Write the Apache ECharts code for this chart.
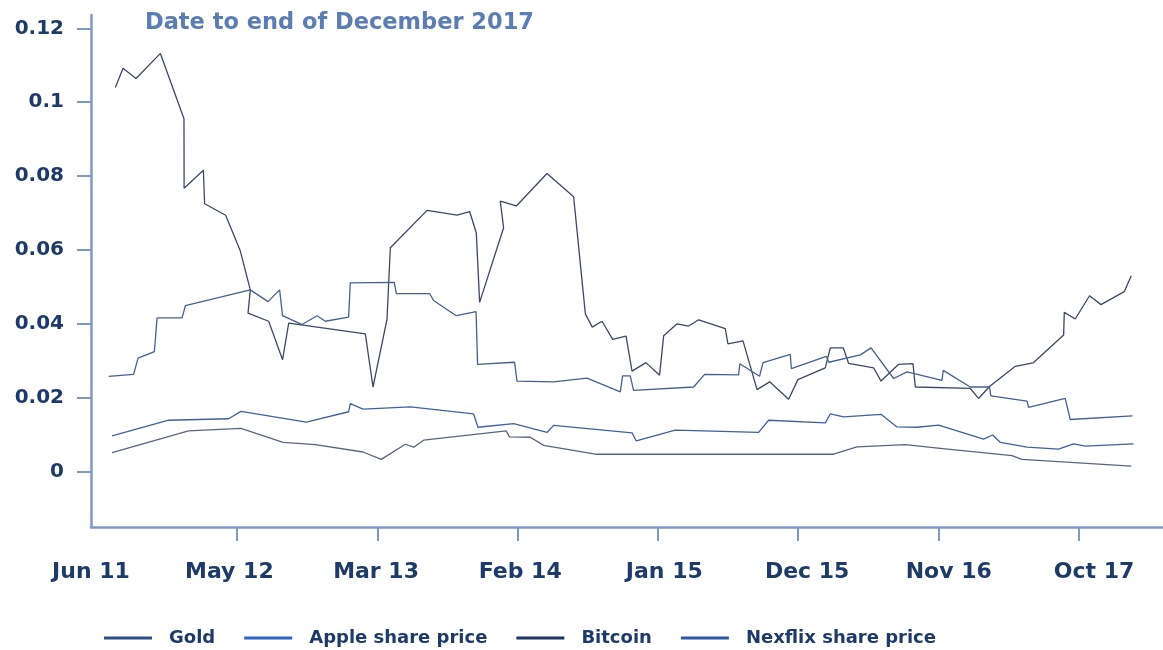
<!DOCTYPE html>
<html>
<head>
<meta charset="utf-8">
<title>Volatility chart</title>
<script src="https://cdn.jsdelivr.net/npm/echarts@6/dist/echarts.min.js"></script>
<style>
  html, body { margin: 0; padding: 0; background: #fff; }
  #chart { width: 1163px; height: 650px; }
</style>
</head>
<body>
<div id="chart"></div>
<script>
  // x values are months counted from Jun 2011
  const xTickMonths = [11, 22, 33, 44, 55, 66, 77];
  const xLabelMonths = [-0.45, 10.4, 21.9, 33.2, 44.5, 55.7, 66.8, 78.2];
  const xLabels = ['Jun 11', 'May 12', 'Mar 13', 'Feb 14', 'Jan 15', 'Dec 15', 'Nov 16', 'Oct 17'];
  const yTicks = [0, 0.02, 0.04, 0.06, 0.08, 0.1, 0.12];
  const yLabels = ['0', '0.02', '0.04', '0.06', '0.08', '0.1', '0.12'];

  const seriesNames = ['Gold', 'Apple share price', 'Bitcoin', 'Nexflix share price'];

  const goldMonths = [1.2, 7.2, 11.31, 14.61, 17.14, 20.88, 22.31, 24.19, 24.85, 25.63, 32.11, 32.35, 33.99, 35.04, 39.09, 57.77, 59.61, 63.4, 66.14, 71.76, 72.54, 81.11];
  const goldValues = [0.0051, 0.011, 0.0117, 0.0079, 0.0073, 0.0053, 0.0033, 0.0074, 0.0066, 0.0085, 0.011, 0.0094, 0.0093, 0.0071, 0.0047, 0.0047, 0.0067, 0.0073, 0.0063, 0.0043, 0.0033, 0.0015];

  const appleMonths = [1.2, 5.64, 10.34, 11.31, 16.43, 19.75, 19.88, 20.88, 24.59, 29.55, 29.89, 32.69, 35.3, 35.82, 41.97, 42.3, 45.36, 51.89, 52.68, 57.12, 57.51, 58.56, 61.49, 62.74, 64.31, 66.01, 69.53, 70.24, 70.85, 72.94, 75.41, 76.59, 77.51, 81.29];
  const appleValues = [0.0097, 0.0139, 0.0143, 0.0163, 0.0134, 0.0162, 0.0184, 0.0169, 0.0175, 0.0156, 0.012, 0.013, 0.0106, 0.0125, 0.0105, 0.0083, 0.0112, 0.0106, 0.0139, 0.0132, 0.0156, 0.0148, 0.0155, 0.0121, 0.012, 0.0126, 0.0088, 0.0099, 0.0079, 0.0066, 0.0061, 0.0075, 0.0069, 0.0075];

  const bitcoinMonths = [1.46, 2.06, 3.08, 4.99, 6.84, 6.85, 8.36, 8.46, 10.11, 11.26, 12.04, 11.86, 13.48, 14.57, 15.05, 21.06, 21.66, 22.76, 23.02, 25.9, 28.25, 29.24, 29.76, 30.02, 31.9, 31.64, 32.9, 35.3, 37.39, 38.31, 38.85, 39.62, 40.45, 41.5, 41.97, 43.06, 44.13, 44.45, 45.5, 46.41, 47.19, 49.28, 49.49, 50.67, 51.77, 52.76, 54.25, 54.97, 57.12, 57.51, 58.53, 58.95, 60.91, 61.49, 62.85, 64.0, 64.18, 68.49, 69.14, 70.02, 72.02, 73.41, 75.81, 75.86, 76.72, 77.84, 78.74, 80.56, 81.11];
  const bitcoinValues = [0.104, 0.1092, 0.1064, 0.1132, 0.0955, 0.0767, 0.0816, 0.0725, 0.0694, 0.0597, 0.0492, 0.0429, 0.0407, 0.0303, 0.0402, 0.0373, 0.0229, 0.0413, 0.0606, 0.0707, 0.0694, 0.0704, 0.0646, 0.0458, 0.066, 0.0732, 0.0719, 0.0807, 0.0744, 0.0427, 0.0391, 0.0407, 0.0358, 0.0367, 0.0272, 0.0295, 0.0261, 0.0368, 0.04, 0.0394, 0.0411, 0.0387, 0.0346, 0.0354, 0.0222, 0.0243, 0.0196, 0.0249, 0.0281, 0.0335, 0.0335, 0.0293, 0.0281, 0.0245, 0.029, 0.0292, 0.0229, 0.0225, 0.0198, 0.0231, 0.0285, 0.0294, 0.037, 0.0431, 0.0413, 0.0476, 0.0452, 0.0487, 0.053];

  const netflixMonths = [0.93, 2.89, 3.24, 4.52, 4.73, 6.69, 6.95, 12.04, 13.43, 14.34, 14.57, 16.1, 17.27, 17.92, 19.75, 19.88, 23.33, 23.49, 26.1, 26.41, 28.19, 29.74, 29.86, 32.76, 32.95, 35.82, 38.44, 41.05, 41.23, 41.83, 42.09, 46.8, 47.66, 50.33, 50.42, 51.97, 52.24, 54.38, 54.46, 57.2, 57.4, 59.87, 60.71, 62.48, 63.53, 66.27, 66.37, 68.49, 70.0, 70.1, 72.94, 73.06, 75.93, 76.33, 81.21];
  const netflixValues = [0.0258, 0.0263, 0.0307, 0.0325, 0.0416, 0.0416, 0.0449, 0.0492, 0.046, 0.0492, 0.0422, 0.0398, 0.0422, 0.0407, 0.0418, 0.0511, 0.0512, 0.0482, 0.0482, 0.0463, 0.0422, 0.0433, 0.029, 0.0296, 0.0245, 0.0243, 0.0253, 0.0216, 0.0259, 0.0259, 0.022, 0.0229, 0.0263, 0.0262, 0.0292, 0.0258, 0.0295, 0.0317, 0.0279, 0.0312, 0.0296, 0.0316, 0.0335, 0.0252, 0.027, 0.0247, 0.0274, 0.0229, 0.0229, 0.0205, 0.0191, 0.0174, 0.0198, 0.0141, 0.0151];

  const legendColors = ['#2c4d8c', '#2f63c8', '#1f3563', '#2d58a8'];
  const lineColors = ['#59657f', '#40609e', '#3b4866', '#45608f'];

  const pairs = (xs, ys) => xs.map((x, i) => [x, ys[i]]);
  const allData = [
    pairs(goldMonths, goldValues),
    pairs(appleMonths, appleValues),
    pairs(bitcoinMonths, bitcoinValues),
    pairs(netflixMonths, netflixValues),
  ];

  const FONT = '"DejaVu Sans", sans-serif';
  const AXIS_COLOR = '#8098c6';
  const TEXT_COLOR = '#1e3a6b';

  const chart = echarts.init(document.getElementById('chart'));

  chart.setOption({
    animation: false,
    title: {
      text: 'Date to end of December 2017',
      left: 140,
      top: 7,
      textStyle: { fontFamily: FONT, fontSize: 22.5, fontWeight: 'bold', color: '#5b7cb4' },
    },
    legend: {
      data: seriesNames,
      left: 99,
      top: 624,
      icon: 'rect',
      itemWidth: 48,
      itemHeight: 3,
      itemGap: 29,
      textStyle: {
        fontFamily: FONT,
        fontSize: 18,
        fontWeight: 'bold',
        color: TEXT_COLOR,
        padding: [0, 0, 0, 12],
      },
    },
    grid: {
      left: 91,
      right: 0,
      top: 15,
      bottom: 123,
      containLabel: false,
      outerBoundsMode: 'none',
    },
    xAxis: {
      type: 'value',
      min: -0.45,
      max: 83.6,
      splitLine: { show: false },
      axisLine: { onZero: false, lineStyle: { color: AXIS_COLOR, width: 2.5 } },
      axisTick: {
        customValues: xTickMonths,
        length: 14,
        lineStyle: { color: AXIS_COLOR, width: 2 },
      },
      axisLabel: {
        customValues: xLabelMonths,
        margin: 34,
        fontFamily: FONT,
        fontSize: 22,
        fontWeight: 'bold',
        color: TEXT_COLOR,
        formatter: (v) => {
          const i = xLabelMonths.findIndex(m => Math.abs(m - v) < 0.01);
          return i >= 0 ? xLabels[i] : '';
        },
      },
    },
    yAxis: {
      type: 'value',
      min: -0.015,
      max: 0.1236,
      splitLine: { show: false },
      axisLine: { show: true, onZero: false, lineStyle: { color: AXIS_COLOR, width: 2.5 } },
      axisTick: {
        show: true,
        customValues: yTicks,
        length: 14,
        lineStyle: { color: AXIS_COLOR, width: 2 },
      },
      axisLabel: {
        customValues: yTicks,
        margin: 27,
        fontFamily: FONT,
        fontSize: 20,
        fontWeight: 'bold',
        color: TEXT_COLOR,
        formatter: (v) => {
          const i = yTicks.findIndex(t => Math.abs(t - v) < 1e-6);
          return i >= 0 ? yLabels[i] : '';
        },
      },
    },
    series: seriesNames.map((name, i) => ({
      name,
      type: 'line',
      data: allData[i],
      showSymbol: false,
      symbol: 'none',
      itemStyle: { color: legendColors[i] },
      lineStyle: { color: lineColors[i], width: 1.3 },
    })),
  });
</script>
</body>
</html>
